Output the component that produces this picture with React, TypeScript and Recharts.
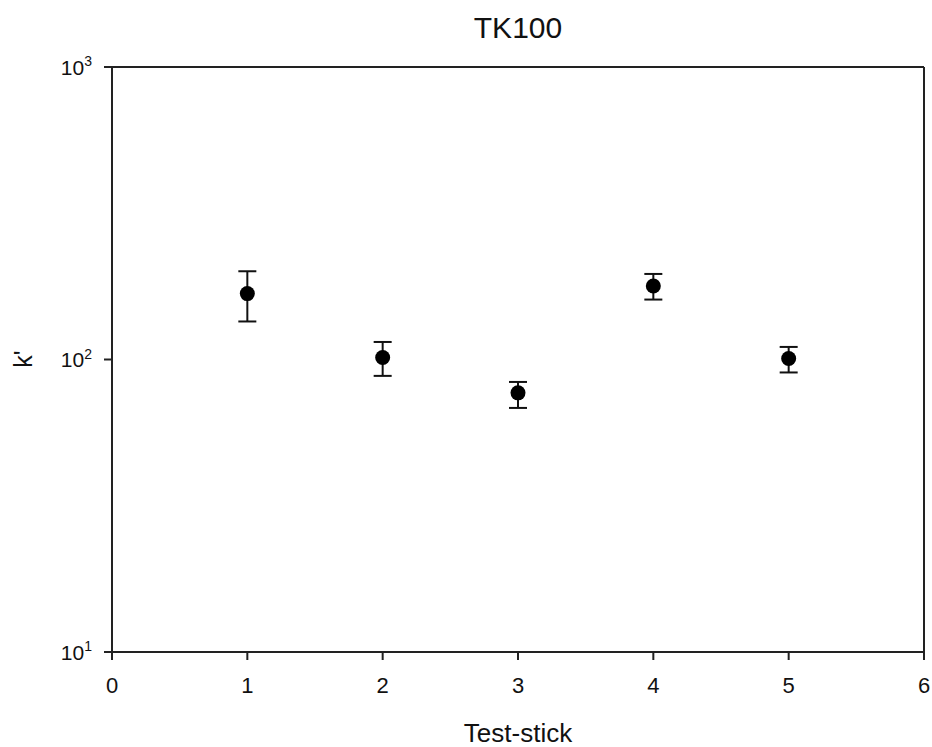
import React from "react";
import { ScatterChart, Scatter, XAxis, YAxis, ErrorBar, ReferenceLine } from "recharts";

const testSticks = [1, 2, 3, 4, 5];
const kValues = [168, 101.6, 76.9, 178.4, 100.8];
const kUpper = [200.3, 114.8, 83.8, 196.1, 110.4];
const kLower = [134.9, 87.9, 68.3, 160.3, 90.3];
const xTicks = [0, 1, 2, 3, 4, 5, 6];
const yTicks = [10, 100, 1000];

const data = testSticks.map((x, i) => ({
  x,
  k: kValues[i],
  err: [kValues[i] - kLower[i], kUpper[i] - kValues[i]],
}));

const FONT = '"Liberation Sans", Arial, sans-serif';
const AXIS = "#222";

const YTick = (props: any) => {
  const { x, y, payload } = props;
  const exp = Math.round(Math.log10(payload.value));
  return (
    <text x={x} y={y} textAnchor="end" style={{ fontFamily: FONT, fontSize: 21 }} fill="#111">
      <tspan style={{ fontSize: 21 }} dy={7.5}>10</tspan>
      <tspan style={{ fontSize: 14 }} dy={-8.4}>{exp}</tspan>
    </text>
  );
};

const Dot = (props: any) => <circle cx={props.cx} cy={props.cy} r={7.5} fill="#000" />;

export default function App() {
  return (
    <div style={{ position: "absolute", left: 0, top: 0, width: 932, height: 747, background: "#fff" }}>
      <svg width={932} height={67} style={{ position: "absolute", left: 0, top: 0 }}>
        <text x={518} y={38} textAnchor="middle" style={{ fontSize: 30, fontFamily: FONT }} fill="#111">
          TK100
        </text>
      </svg>
      <div style={{ position: "absolute", left: 0, top: 0 }}>
        <ScatterChart width={932} height={747} margin={{ top: 67, right: 8, bottom: 0, left: 0 }}>
          <XAxis
            type="number"
            dataKey="x"
            domain={[0, 6]}
            ticks={xTicks}
            allowDataOverflow
            height={95}
            tickSize={8}
            tickMargin={17}
            axisLine={{ stroke: AXIS, strokeWidth: 2 }}
            tickLine={{ stroke: AXIS, strokeWidth: 2 }}
            tick={{ fontSize: 22, fontFamily: FONT, fill: "#111" }}
            label={{
              content: (p: any) => {
                const vb = p.viewBox || { x: 112, width: 812 };
                return (
                  <text x={vb.x + vb.width / 2} y={742} textAnchor="middle" style={{ fontSize: 26, fontFamily: FONT }} fill="#111">
                    Test-stick
                  </text>
                );
              },
            }}
          />
          <YAxis
            type="number"
            dataKey="k"
            scale="log"
            domain={[10, 1000]}
            ticks={yTicks}
            allowDataOverflow
            width={112}
            tickSize={8}
            tickMargin={12}
            axisLine={{ stroke: AXIS, strokeWidth: 2 }}
            tickLine={{ stroke: AXIS, strokeWidth: 2 }}
            tick={YTick}
            label={{
              content: () => (
                <text x={32} y={359} transform="rotate(-90 32 359)" textAnchor="middle" style={{ fontSize: 25, fontFamily: FONT }} fill="#111">
                  k'
                </text>
              ),
            }}
          />
          <ReferenceLine y={1000} stroke={AXIS} strokeWidth={2} />
          <ReferenceLine x={6} stroke={AXIS} strokeWidth={2} />
          <Scatter data={data} shape={Dot} isAnimationActive={false}>
            <ErrorBar dataKey="err" direction="y" width={9} stroke="#111" strokeWidth={2} isAnimationActive={false} />
          </Scatter>
        </ScatterChart>
      </div>
    </div>
  );
}
